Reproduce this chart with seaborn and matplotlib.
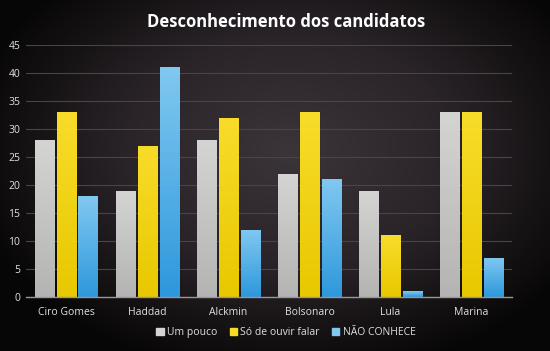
import matplotlib
matplotlib.use("Agg")
import matplotlib.pyplot as plt
import numpy as np
import pandas as pd
import seaborn as sns
from matplotlib.colors import LinearSegmentedColormap

candidatos = ["Ciro Gomes", "Haddad", "Alckmin", "Bolsonaro", "Lula", "Marina"]
series = ["Um pouco", "Só de ouvir falar", "NÃO CONHECE"]
um_pouco = [28, 19, 28, 22, 19, 33]
so_ouvir = [33, 27, 32, 33, 11, 33]
nao_conhece = [18, 41, 12, 21, 1, 7]
y_ticks = [0, 5, 10, 15, 20, 25, 30, 35, 40, 45]

# (top colour, bottom colour) for each series
grads = {
    "Um pouco": ("#d4d4d2", "#b4b5b3"),
    "Só de ouvir falar": ("#f8dc2a", "#e8c800"),
    "NÃO CONHECE": ("#80c8f0", "#2e98dc"),
}

df = pd.DataFrame({
    "candidato": candidatos * 3,
    "serie": [s for s in series for _ in candidatos],
    "valor": um_pouco + so_ouvir + nao_conhece,
})

sns.set_theme(style="dark")
plt.rcParams["font.family"] = ["Open Sans", "DejaVu Sans"]

fig = plt.figure(figsize=(5.5, 3.51), dpi=100)

# radial background
bg = fig.add_axes([0, 0, 1, 1], zorder=-10)
yy, xx = np.mgrid[0:351, 0:550]
r = np.sqrt(((xx - 290) / 330.0) ** 2 + ((yy - 150) / 230.0) ** 2)
r = np.clip(r, 0, 1)
bg_cmap = LinearSegmentedColormap.from_list("bg", ["#3b3539", "#2a2428", "#070606"])
bg.imshow(r, cmap=bg_cmap, aspect="auto", extent=[0, 1, 0, 1])
bg.set_axis_off()

ax = fig.add_axes([0.047, 0.154, 0.884, 0.718])
ax.set_facecolor("none")

palette = {s: grads[s][1] for s in series}
sns.barplot(data=df, x="candidato", y="valor", hue="serie", order=candidatos,
            hue_order=series, palette=palette, width=0.8, gap=0.12,
            saturation=1, ax=ax, legend=False, errorbar=None)

# gradient fill inside each bar
for s, container in zip(series, ax.containers):
    cmap = LinearSegmentedColormap.from_list(s, [grads[s][1], grads[s][0]])
    for patch in container:
        x0, y0 = patch.get_x(), patch.get_y()
        w, h = patch.get_width(), patch.get_height()
        patch.set_edgecolor("#1a1616")
        patch.set_linewidth(0.8)
        grad = np.linspace(0, 1, 64).reshape(-1, 1)
        im = ax.imshow(grad, cmap=cmap, origin="lower", aspect="auto",
                       extent=[x0, x0 + w, y0, y0 + h], zorder=patch.get_zorder() + 0.1)
        im.set_clip_path(patch)

ax.set_xlim(-0.5, len(candidatos) - 0.5)
ax.set_ylim(0, 45)
ax.set_yticks(y_ticks)
ax.yaxis.grid(True, color="#4a4448", linewidth=0.8)
ax.xaxis.grid(False)
ax.set_axisbelow(True)
for side in ["top", "right", "left"]:
    ax.spines[side].set_visible(False)
ax.spines["bottom"].set_color("#9a9698")
ax.spines["bottom"].set_linewidth(1.0)
ax.tick_params(axis="both", length=0, colors="#d8d8d8", labelsize=7.5, pad=4)
ax.tick_params(axis="x", pad=7)
ax.set_xlabel("")
ax.set_ylabel("")
for lbl in ax.get_xticklabels() + ax.get_yticklabels():
    lbl.set_color("#e0e0e0")

fig.text(0.52, 0.938, "Desconhecimento dos candidatos", ha="center", va="center",
         color="white", fontsize=12, fontweight="bold")

handles = [plt.Rectangle((0, 0), 1, 1, color=grads[s][0]) for s in series]
fig.legend(handles, series, loc="center", bbox_to_anchor=(0.52, 0.052), ncol=3,
           frameon=False, fontsize=7.5, labelcolor="#e0e0e0", handlelength=0.7,
           handleheight=0.7, handletextpad=0.3, columnspacing=1.2)

fig.savefig("out.png", dpi=100)
